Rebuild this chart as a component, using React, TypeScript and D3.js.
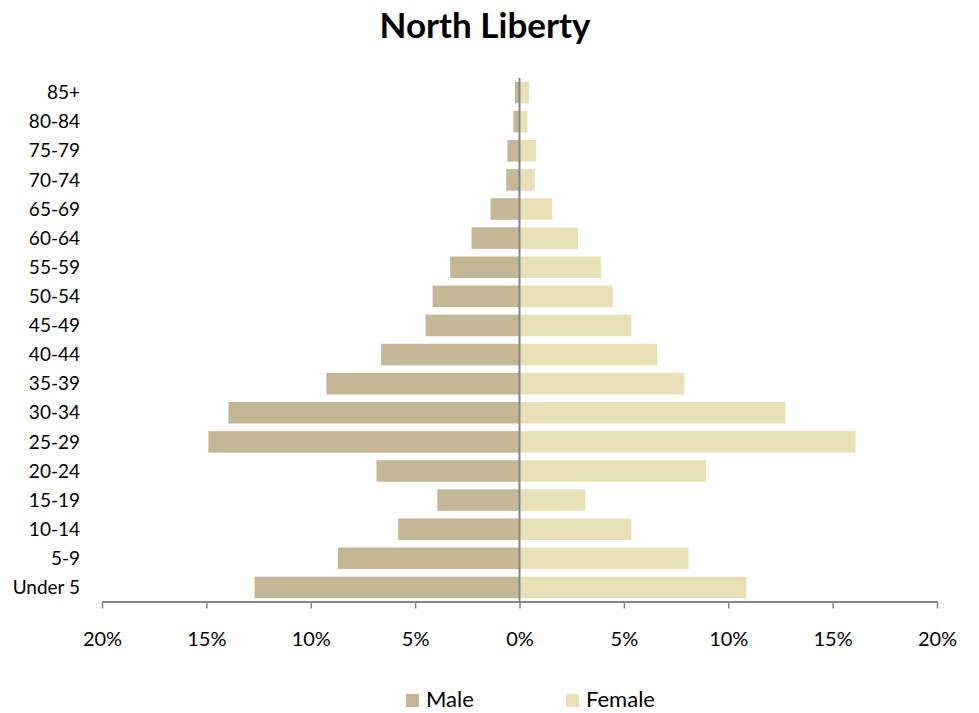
import React, { useEffect, useRef } from 'react';
import * as d3 from 'd3';

// age groups, top to bottom
const ageGroups = ['85+', '80-84', '75-79', '70-74', '65-69', '60-64', '55-59', '50-54', '45-49',
  '40-44', '35-39', '30-34', '25-29', '20-24', '15-19', '10-14', '5-9', 'Under 5'];

const maleShare = [0.22, 0.29, 0.58, 0.63, 1.39, 2.3, 3.32, 4.16, 4.5,
  6.63, 9.25, 13.94, 14.9, 6.85, 3.94, 5.81, 8.7, 12.69];

const femaleShare = [0.46, 0.38, 0.8, 0.74, 1.57, 2.8, 3.9, 4.46, 5.36,
  6.6, 7.9, 12.74, 16.1, 8.94, 3.15, 5.36, 8.1, 10.87];

const xTicks = [-20, -15, -10, -5, 0, 5, 10, 15, 20];

const W = 979, H = 713;
const FONT = 'Lato, "Open Sans", sans-serif';

export default function App() {
  const ref = useRef<SVGSVGElement>(null);

  useEffect(() => {
    const svg = d3.select(ref.current);
    svg.selectAll('*').remove();

    const x = d3.scaleLinear().domain([-20, 20]).range([102, 937]);
    const y = d3.scaleBand<string>().domain(ageGroups).range([78, 602])
      .paddingInner(0.26).paddingOuter(0.13);

    svg.append('text')
      .attr('x', 485).attr('y', 38)
      .attr('text-anchor', 'middle')
      .attr('font-family', FONT).attr('font-weight', 'bold').attr('font-size', 35)
      .attr('fill', '#000')
      .text('North Liberty');

    // bars
    svg.append('g').selectAll('rect.male').data(ageGroups).enter().append('rect')
      .attr('x', (d, i) => x(-maleShare[i]))
      .attr('y', d => y(d)!)
      .attr('width', (d, i) => x(0) - x(-maleShare[i]))
      .attr('height', y.bandwidth())
      .attr('fill', '#C4B795');

    svg.append('g').selectAll('rect.female').data(ageGroups).enter().append('rect')
      .attr('x', x(0))
      .attr('y', d => y(d)!)
      .attr('width', (d, i) => x(femaleShare[i]) - x(0))
      .attr('height', y.bandwidth())
      .attr('fill', '#E8E1B7');

    // zero line
    svg.append('line')
      .attr('x1', x(0)).attr('x2', x(0))
      .attr('y1', 78).attr('y2', 602)
      .attr('stroke', '#868686').attr('stroke-width', 2);

    // bottom axis
    const axis = svg.append('g')
      .attr('transform', 'translate(0,601.5)')
      .call(d3.axisBottom(x).tickValues(xTicks).tickSize(7).tickSizeOuter(0)
        .tickFormat(d => `${Math.abs(+d)}%`));
    axis.select('.domain').attr('stroke', '#868686').attr('stroke-width', 2);
    axis.selectAll('.tick line').attr('stroke', '#868686').attr('stroke-width', 1.5);
    axis.selectAll('.tick text')
      .attr('y', 30)
      .attr('fill', '#000')
      .attr('font-family', FONT).attr('font-size', 20);

    // category labels
    svg.append('g').selectAll('text').data(ageGroups).enter().append('text')
      .attr('x', 80)
      .attr('y', d => y(d)! + y.bandwidth() / 2)
      .attr('dy', '0.35em')
      .attr('text-anchor', 'end')
      .attr('font-family', FONT).attr('font-size', 19)
      .attr('fill', '#000')
      .text(d => d);

    // legend
    const legend = [
      { name: 'Male', color: '#C4B795', x: 406 },
      { name: 'Female', color: '#E8E1B7', x: 566 },
    ];
    const lg = svg.append('g').selectAll('g').data(legend).enter().append('g')
      .attr('transform', d => `translate(${d.x},694)`);
    lg.append('rect').attr('width', 13).attr('height', 13).attr('fill', d => d.color);
    lg.append('text')
      .attr('x', 20).attr('y', 13)
      .attr('font-family', FONT).attr('font-size', 22)
      .attr('fill', '#000')
      .text(d => d.name);
  }, []);

  return (
    <div style={{ position: 'absolute', left: 0, top: 0 }}>
      <svg ref={ref} width={W} height={H} style={{ display: 'block', background: '#fff' }} />
    </div>
  );
}
